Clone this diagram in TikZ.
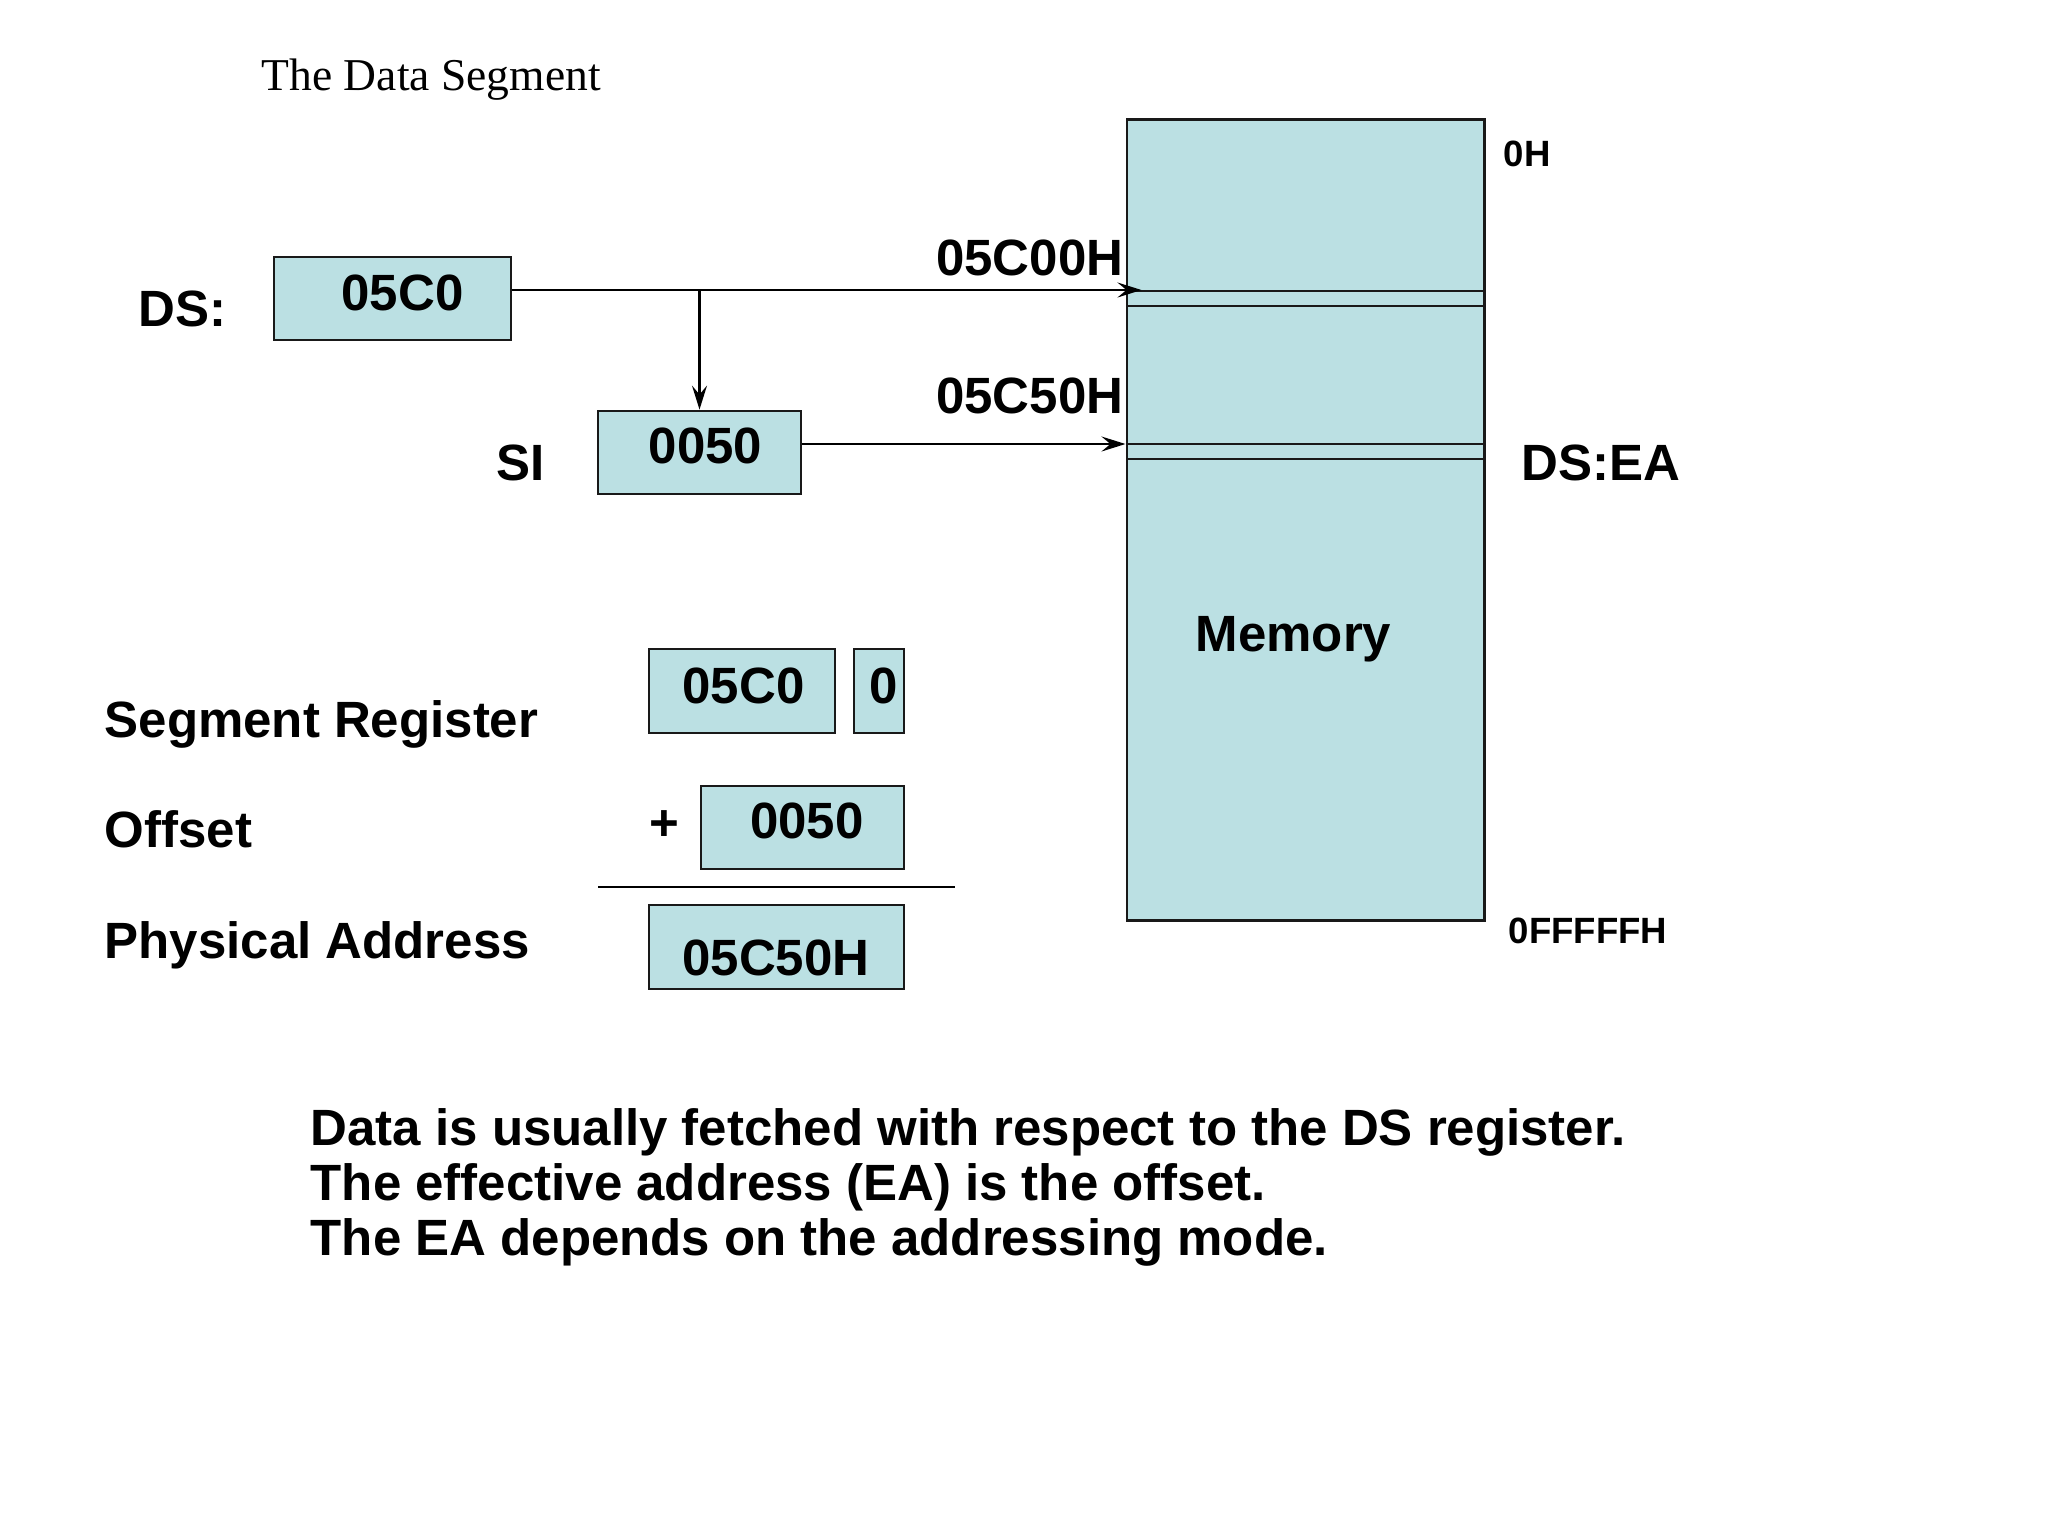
\documentclass[tikz,border=0pt]{standalone}
\usepackage{fontspec}
\setmainfont{Liberation Sans}
\newfontfamily\titlefont{Liberation Serif}
\usetikzlibrary{arrows.meta,calc}
\definecolor{boxfill}{RGB}{187,224,227}
\begin{document}
\begin{tikzpicture}[x=0.01cm,y=-0.01cm,
  reg/.style={draw=black!90, line width=0.8pt, fill=boxfill, inner sep=0, minimum height=0.83cm},
  lbl/.style={inner sep=0, font=\fontsize{14.5}{17}\selectfont\bfseries},
  small/.style={inner sep=0, font=\fontsize{10.4}{12}\selectfont\bfseries},
  conn/.style={line width=0.6pt, -{Stealth[length=2.4mm,width=1.5mm,inset=0.9mm]}},
  band/.style={line width=0.8pt, draw=black!90},
]
\fill[white] (0,0) rectangle (2048,1536);
\useasboundingbox (0,0) rectangle (2048,1536);

% title
\node[inner sep=0, anchor=base west, font=\titlefont\fontsize{12.95}{15}\selectfont] (title) at (261,90) {The Data Segment};

% boxes
\node[reg, minimum width=2.37cm] (ds) at (392.5,298.5) {};
\node[reg, minimum width=2.03cm] (si) at (699.5,452.5) {};
\node[reg, minimum width=1.86cm, minimum height=0.84cm] (seg) at (742,691) {};
\node[reg, minimum width=0.50cm, minimum height=0.84cm] (segz) at (879,691) {};
\node[reg, minimum width=2.03cm] (off) at (802.5,827.5) {};
\node[reg, minimum width=2.55cm, minimum height=0.84cm] (phy) at (776.5,947) {};
\node[reg, minimum width=3.57cm, minimum height=8.0cm] (mem) at (1305.5,520) {};

% memory bands
\draw[band] (1127,291) -- (1484,291);
\draw[band] (1127,306) -- (1484,306);
\draw[band] (1127,444) -- (1484,444);
\draw[band] (1127,459) -- (1484,459);

% box texts
\node[lbl, anchor=base] (dsval) at (402.5,310) {05C0};
\node[lbl, anchor=base] (sival) at (705.5,463) {0050};
\node[lbl, anchor=base] (segval) at (743.5,703) {05C0};
\node[lbl, anchor=base] (segzval) at (884,703) {0};
\node[lbl, anchor=base] (offval) at (807,838) {0050};
\node[lbl, anchor=base] (phyval) at (776,975) {05C50H};
\node[lbl, anchor=base] (memlbl) at (1293.5,651) {Memory};

% labels
\node[lbl, anchor=base west] (dslbl) at (138,326) {DS:};
\node[lbl, anchor=base west] (silbl) at (496,480) {SI};
\node[lbl, anchor=base east] (a1) at (1124,275) {05C00H};
\node[lbl, anchor=base east] (a2) at (1124,413) {05C50H};
\node[small, anchor=base west] (zh) at (1503,166) {0H};
\node[lbl, anchor=base west] (dsea) at (1521,480) {DS:EA};
\node[small, anchor=base west] (ffh) at (1508,943) {0FFFFFH};
\node[lbl, anchor=base west] (seglbl) at (104,737) {Segment Register};
\node[lbl, anchor=base west] (offlbl) at (104,847) {Offset};
\node[lbl, anchor=base] (plus) at (664,840) {+};
\node[lbl, anchor=base west] (phylbl) at (104,958) {Physical Address};

% separator
\draw[line width=0.6pt] (598,887) -- (955,887);

% connectors
\coordinate (dsout) at ($(ds.east)+(0,-8.5)$);
\coordinate (br) at (si.north |- dsout);
\coordinate (siout) at ($(si.east)+(0,-8.5)$);
\draw[conn] (dsout) -- ($(dsout -| mem.west)+(16,0)$);
\draw[conn] (br) -- (si.north);
\draw[conn] (siout) -- (siout -| mem.west);

% bottom text
\node[lbl, anchor=base west] (l1) at (310,1145) {Data is usually fetched with respect to the DS register.};
\node[lbl, anchor=base west] (l2) at (310,1200) {The effective address (EA) is the offset.};
\node[lbl, anchor=base west] (l3) at (310,1255) {The EA depends on the addressing mode.};
\end{tikzpicture}
\end{document}
